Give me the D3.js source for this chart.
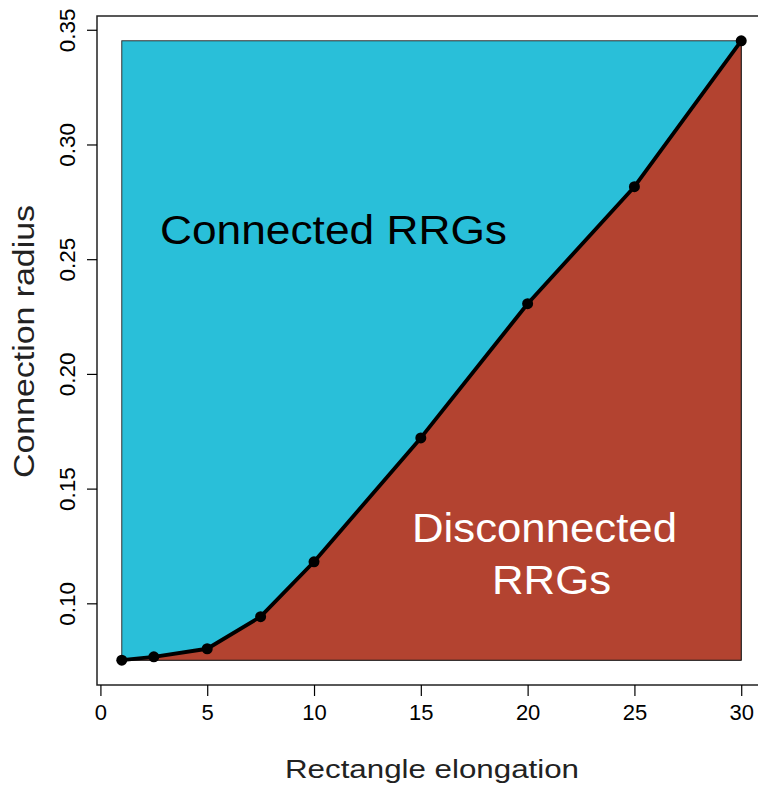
<!DOCTYPE html>
<html>
<head>
<meta charset="utf-8">
<script src="https://cdn.jsdelivr.net/npm/d3@7"></script>
<style>
  html, body { margin: 0; padding: 0; background: #fff; }
  svg { display: block; font-family: "Liberation Sans", Arial, Helvetica, sans-serif; }
</style>
</head>
<body>
<svg id="chart" width="758" height="787"></svg>
<script>
// Threshold connection radius for each rectangle elongation
const elongation = [1, 2.5, 5, 7.5, 10, 15, 20, 25, 30];
const radius = [0.0752, 0.0767, 0.0802, 0.0942, 0.1181, 0.1721, 0.2306, 0.2816, 0.3452];
const xTicks = [0, 5, 10, 15, 20, 25, 30];
const yTicks = [0.10, 0.15, 0.20, 0.25, 0.30, 0.35];
const yTickLabels = ["0.10", "0.15", "0.20", "0.25", "0.30", "0.35"];

const svg = d3.select("#chart");

const x = d3.scaleLinear().domain([-0.16, 31.16]).range([97, 766]);
const y = d3.scaleLinear().domain([0.0644, 0.356]).range([685, 16]);

const xMin = d3.min(elongation), xMax = d3.max(elongation);
const yMin = d3.min(radius), yMax = d3.max(radius);

// Connected region: full rectangle spanning the data range
svg.append("rect")
  .attr("x", x(xMin)).attr("y", y(yMax))
  .attr("width", x(xMax) - x(xMin)).attr("height", y(yMin) - y(yMax))
  .attr("fill", "#29BFD9")
  .attr("stroke", "#333").attr("stroke-width", 1);

// Disconnected region: below the threshold curve
const poly = elongation.map((e, i) => [x(e), y(radius[i])]);
poly.push([x(xMax), y(yMin)]);
svg.append("path")
  .attr("d", d3.line()(poly) + "Z")
  .attr("fill", "#B34330")
  .attr("stroke", "#222").attr("stroke-width", 1);

// Threshold curve
svg.append("path")
  .datum(elongation.map((e, i) => [e, radius[i]]))
  .attr("d", d3.line().x(d => x(d[0])).y(d => y(d[1])))
  .attr("fill", "none")
  .attr("stroke", "#000").attr("stroke-width", 3.8)
  .attr("stroke-linejoin", "round");

svg.selectAll("circle.pt")
  .data(elongation.map((e, i) => [e, radius[i]]))
  .enter().append("circle")
  .attr("class", "pt")
  .attr("cx", d => x(d[0])).attr("cy", d => y(d[1]))
  .attr("r", 5.5).attr("fill", "#000");

// Region labels
svg.append("text")
  .attr("x", 160).attr("y", 244)
  .attr("font-size", 40).attr("fill", "#000")
  .attr("textLength", 347).attr("lengthAdjust", "spacingAndGlyphs")
  .text("Connected RRGs");

svg.append("text")
  .attr("x", 544.5).attr("y", 542)
  .attr("font-size", 41).attr("fill", "#fff")
  .attr("text-anchor", "middle")
  .attr("textLength", 265).attr("lengthAdjust", "spacingAndGlyphs")
  .text("Disconnected");
svg.append("text")
  .attr("x", 551.5).attr("y", 594)
  .attr("font-size", 41).attr("fill", "#fff")
  .attr("text-anchor", "middle")
  .attr("textLength", 119).attr("lengthAdjust", "spacingAndGlyphs")
  .text("RRGs");

// Plot frame
svg.append("rect")
  .attr("x", 97).attr("y", 16)
  .attr("width", 766 - 97).attr("height", 685 - 16)
  .attr("fill", "none").attr("stroke", "#222").attr("stroke-width", 1.5);

// Axes
const xAxis = d3.axisBottom(x).tickValues(xTicks).tickSize(11).tickPadding(8).tickFormat(d3.format("d"));
const gx = svg.append("g").attr("transform", "translate(0,685)").call(xAxis);
gx.select(".domain").remove();
gx.selectAll("line").attr("stroke", "#000").attr("stroke-width", 1.2);
gx.selectAll("text").attr("font-size", 22).attr("fill", "#000")
  .attr("font-family", "'Liberation Sans', Arial, sans-serif");

const yAxis = d3.axisLeft(y).tickValues(yTicks).tickSize(10)
  .tickFormat((d, i) => yTickLabels[i]);
const gy = svg.append("g").attr("transform", "translate(97,0)").call(yAxis);
gy.select(".domain").remove();
gy.selectAll("line").attr("stroke", "#000").attr("stroke-width", 1.2);
gy.selectAll("text")
  .attr("font-size", 22.5).attr("fill", "#000")
  .attr("font-family", "'Liberation Sans', Arial, sans-serif")
  .attr("x", null).attr("dy", null)
  .attr("text-anchor", "middle")
  .attr("transform", "translate(-22,0) rotate(-90)");

// Axis titles
svg.append("text")
  .attr("x", 432).attr("y", 778)
  .attr("font-size", 25).attr("fill", "#222")
  .attr("text-anchor", "middle")
  .attr("textLength", 294).attr("lengthAdjust", "spacingAndGlyphs")
  .text("Rectangle elongation");

svg.append("text")
  .attr("transform", "translate(34,341.5) rotate(-90)")
  .attr("font-size", 29).attr("fill", "#222")
  .attr("text-anchor", "middle")
  .attr("textLength", 273).attr("lengthAdjust", "spacingAndGlyphs")
  .text("Connection radius");
</script>
</body>
</html>
